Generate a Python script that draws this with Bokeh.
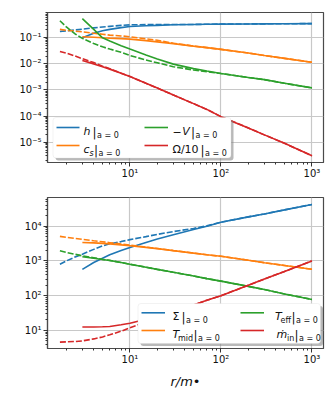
from bokeh.plotting import figure
from bokeh.layouts import column
from bokeh.models import Range1d, LogTicker, CustomJSTickFormatter, BoxAnnotation, Label
from bokeh.embed import file_html
from bokeh.resources import INLINE

# ---------------- data ----------------
r_solid = [3, 4, 5, 6, 8, 10, 15, 20, 30, 50, 70, 100, 200, 300, 500, 1000]
r_dash = [1.7, 2, 2.5, 3, 4, 5, 6, 8, 10, 15, 20, 30, 50, 70, 100, 200, 300, 500, 1000]

# top panel
h_solid = [0.10, 0.15, 0.185, 0.21, 0.245, 0.27, 0.29, 0.30, 0.315, 0.325, 0.33, 0.335, 0.34, 0.343, 0.346, 0.35]
h_dash = [0.175, 0.185, 0.20, 0.215, 0.24, 0.26, 0.275, 0.30, 0.315, 0.32, 0.325, 0.325, 0.325, 0.33, 0.335, 0.34, 0.343, 0.346, 0.35]
cs_solid = [0.11, 0.105, 0.10, 0.097, 0.093, 0.089, 0.078, 0.070, 0.060, 0.048, 0.042, 0.036, 0.026, 0.021, 0.0163, 0.0115]
cs_dash = [0.21, 0.195, 0.18, 0.17, 0.15, 0.137, 0.127, 0.118, 0.11, 0.092, 0.080, 0.062, 0.048, 0.042, 0.036, 0.026, 0.021, 0.0163, 0.0115]
V_solid = [0.54, 0.21, 0.10, 0.075, 0.05, 0.037, 0.022, 0.0155, 0.0098, 0.0066, 0.0053, 0.0043, 0.0030, 0.0025, 0.0018, 0.0012]
V_dash = [0.45, 0.26, 0.14, 0.095, 0.06, 0.045, 0.037, 0.028, 0.021, 0.014, 0.011, 0.0078, 0.0058, 0.0050, 0.0043, 0.0030, 0.0025, 0.0018, 0.0012]
Om_solid = [0.0134, 0.0100, 0.0078, 0.0063, 0.0044, 0.0033, 0.0018, 0.00118, 0.00064, 0.0003, 0.00018, 0.000095, 0.000035, 0.000019, 0.000009, 0.000003]
Om_dash = [0.030, 0.026, 0.020, 0.0158, 0.0112, 0.0082, 0.0065, 0.0044, 0.0033, 0.0018, 0.00118, 0.00064, 0.0003, 0.00018, 0.000095, 0.000035, 0.000019, 0.000009, 0.000003]

# bottom panel
Sig_solid = [570, 900, 1200, 1500, 2000, 2450, 3400, 4270, 5700, 8000, 10000, 13000, 18500, 22500, 29500, 42000]
Sig_dash = [800, 1000, 1300, 1560, 2150, 2700, 3100, 3600, 4100, 5000, 5800, 7000, 8600, 10200, 13000, 18500, 22500, 29500, 42000]
Tmid_solid = [3400, 3300, 3200, 3100, 2900, 2740, 2450, 2260, 1980, 1680, 1500, 1360, 1050, 890, 740, 575]
Tmid_dash = [5100, 4800, 4450, 4200, 3800, 3550, 3350, 3050, 2850, 2500, 2280, 1980, 1680, 1500, 1360, 1050, 890, 740, 575]
Teff_solid = [1320, 1200, 1100, 1030, 900, 800, 660, 570, 470, 370, 310, 262, 185, 150, 112, 78]
Teff_dash = [1960, 1750, 1550, 1400, 1230, 1110, 1035, 900, 800, 660, 570, 470, 370, 310, 262, 185, 150, 112, 78]
mdot_solid = [12.5, 12.5, 12.7, 13.0, 14.5, 16, 21, 26, 36, 54, 74, 100, 200, 300, 500, 1000]
mdot_dash = [4.6, 4.7, 4.8, 5.0, 5.7, 6.5, 7.5, 9.5, 12, 17.5, 23.5, 34, 54, 74, 100, 200, 300, 500, 1000]

x_label = "r/m\u2022"

BLUE, ORANGE, GREEN, RED = "#1f77b4", "#ff7f0e", "#2ca02c", "#d62728"
FONT = "DejaVu Sans"
DASH = "6 2"
LW = 1.6

XLO, XHI = 0.094, 3.127
PAGE_L, FW = 47, 276
BL, BR = 47, 5

sup_js = """
const m = {"-":"\u207b","0":"\u2070","1":"\u00b9","2":"\u00b2","3":"\u00b3","4":"\u2074","5":"\u2075","6":"\u2076","7":"\u2077","8":"\u2078","9":"\u2079"};
const e = Math.round(Math.log10(tick));
let s = "";
for (const c of String(e)) s += m[c];
return "10" + s;
"""


def make_fig(frame_h, top_b, bot_b, ylo, yhi, page_top):
    p = figure(width=BL + FW + BR, height=top_b + frame_h + bot_b,
               x_axis_type="log", y_axis_type="log",
               x_range=Range1d(10 ** XLO, 10 ** XHI), y_range=Range1d(10 ** ylo, 10 ** yhi),
               output_backend="svg", toolbar_location=None,
               min_border_left=BL, min_border_right=BR, min_border_top=top_b, min_border_bottom=bot_b)
    p.outline_line_color = "#4a4a4a"
    p.outline_line_width = 1.2
    p.background_fill_color = "white"
    p.border_fill_color = "white"
    for ax in (p.xaxis[0], p.yaxis[0]):
        ax.ticker = LogTicker(mantissas=[1], desired_num_ticks=8, num_minor_ticks=10)
        ax.formatter = CustomJSTickFormatter(code=sup_js)
        ax.axis_line_color = "#4a4a4a"
        ax.axis_line_width = 1.2
        ax.major_tick_out = 4
        ax.major_tick_in = 0
        ax.minor_tick_out = 2
        ax.minor_tick_in = 0
        ax.major_tick_line_color = "#333333"
        ax.minor_tick_line_color = "#333333"
        ax.major_label_text_font = FONT
        ax.major_label_text_font_size = "10px"
        ax.major_label_text_color = "#111111"
    p.xaxis.major_label_standoff = 1
    p.yaxis.major_label_standoff = 2
    p.xgrid.grid_line_color = "#c8c8c8"
    p.ygrid.grid_line_color = "#c8c8c8"
    p.xgrid.grid_line_width = 1.2
    p.ygrid.grid_line_width = 1.2
    p.xgrid.ticker = p.xaxis[0].ticker
    p.ygrid.ticker = p.yaxis[0].ticker
    spec = dict(left=PAGE_L, top=page_top + top_b, w=FW, h=frame_h, ylo=ylo, yhi=yhi)
    return p, spec


def to_data(spec, px, py):
    fx = (px - spec["left"]) / spec["w"]
    fy = (py - spec["top"]) / spec["h"]
    x = 10 ** (XLO + fx * (XHI - XLO))
    y = 10 ** (spec["yhi"] - fy * (spec["yhi"] - spec["ylo"]))
    return x, y


ROLE = {
    "mi": dict(size=11, style="italic", dy=4.0),
    "mn": dict(size=11, style="normal", dy=4.0),
    "si": dict(size=8, style="italic", dy=7.5),
    "sn": dict(size=8, style="normal", dy=7.5),
    "bar": dict(size=12, style="normal", dy=5.5),
}


def draw_legend(p, spec, box, rows, cols, entries):
    l, t, r, b = box
    sx0, sy0 = to_data(spec, l + 2.5, b + 2.5)
    sx1, sy1 = to_data(spec, r + 2.5, t + 2.5)
    p.add_layout(BoxAnnotation(left=sx0, right=sx1, bottom=sy0, top=sy1,
                               fill_color="#808080", fill_alpha=0.55, line_color=None, border_radius=3))
    bx0, by0 = to_data(spec, l, b)
    bx1, by1 = to_data(spec, r, t)
    p.add_layout(BoxAnnotation(left=bx0, right=bx1, bottom=by0, top=by1,
                               fill_color="white", fill_alpha=1.0, line_color="#d5d5d5",
                               line_width=1, border_radius=3))
    for color, ci, ri, pieces in entries:
        lx0, lx1, tx = cols[ci]
        ry = rows[ri]
        x0, y0 = to_data(spec, lx0, ry)
        x1, _ = to_data(spec, lx1, ry)
        p.segment(x0=[x0], y0=[y0], x1=[x1], y1=[y0], line_color=color, line_width=LW, level="overlay")
        for text, dx, role in pieces:
            st = ROLE[role]
            x, y = to_data(spec, tx + dx, ry + st["dy"])
            p.add_layout(Label(x=x, y=y, text=text, text_font=FONT, text_font_size="%gpx" % st["size"],
                               text_font_style=st["style"], text_color="#111111",
                               text_baseline="alphabetic", text_align="left"))


SUB = "a = 0"

# ---------------- top panel ----------------
TOP1_H = 12 + 150 + 22
p1, s1 = make_fig(150, 12, 22, -5.78, -0.03, 0)
for rr, yy, c, dash in [(r_solid, h_solid, BLUE, "solid"), (r_dash, h_dash, BLUE, DASH),
                        (r_solid, cs_solid, ORANGE, "solid"), (r_dash, cs_dash, ORANGE, DASH),
                        (r_solid, V_solid, GREEN, "solid"), (r_dash, V_dash, GREEN, DASH),
                        (r_solid, Om_solid, RED, "solid"), (r_dash, Om_dash, RED, DASH)]:
    p1.line(rr, yy, line_color=c, line_width=LW, line_dash=dash)

draw_legend(p1, s1, (52.5, 117, 230.5, 157.5), [127, 145],
            [(56, 79, 83), (144, 167.5, 172)],
            [(BLUE, 0, 0, [("h", 0, "mi"), ("|", 9, "bar"), (SUB, 13.5, "sn")]),
             (ORANGE, 0, 1, [("c", 0, "mi"), ("s", 6, "si"), ("|", 10.5, "bar"), (SUB, 15, "sn")]),
             (GREEN, 1, 0, [("\u2212", 0, "mn"), ("V", 9.8, "mi"), ("|", 18.5, "bar"), (SUB, 23, "sn")]),
             (RED, 1, 1, [("\u03a9/10", 0, "mn"), ("|", 28, "bar"), (SUB, 32.5, "sn")])])

# ---------------- bottom panel ----------------
p2, s2 = make_fig(151, 13, 44, 0.48, 4.825, TOP1_H)
for rr, yy, c, dash in [(r_solid, Sig_solid, BLUE, "solid"), (r_dash, Sig_dash, BLUE, DASH),
                        (r_solid, Tmid_solid, ORANGE, "solid"), (r_dash, Tmid_dash, ORANGE, DASH),
                        (r_solid, Teff_solid, GREEN, "solid"), (r_dash, Teff_dash, GREEN, DASH),
                        (r_solid, mdot_solid, RED, "solid"), (r_dash, mdot_dash, RED, DASH)]:
    p2.line(rr, yy, line_color=c, line_width=LW, line_dash=dash)

p2.xaxis.axis_label = x_label
p2.xaxis.axis_label_text_font = FONT
p2.xaxis.axis_label_text_font_size = "13px"
p2.xaxis.axis_label_text_font_style = "italic"
p2.xaxis.axis_label_text_color = "#111111"
p2.xaxis.axis_label_standoff = 6

draw_legend(p2, s2, (137.5, 303, 320, 343), [312.3, 330],
            [(141, 164.5, 172), (240, 263.5, 274.5)],
            [(BLUE, 0, 0, [("\u03a3", 0, "mn"), ("|", 9, "bar"), (SUB, 13.5, "sn")]),
             (ORANGE, 0, 1, [("T", 0, "mi"), ("mid", 5.5, "sn"), ("|", 21, "bar"), (SUB, 25.5, "sn")]),
             (GREEN, 1, 0, [("T", 0, "mi"), ("eff", 5.5, "sn"), ("|", 16.5, "bar"), (SUB, 21, "sn")]),
             (RED, 1, 1, [("\u1e41", 1.5, "mi"), ("in", 12, "sn"), ("|", 19.5, "bar"), (SUB, 24, "sn")])])

layout = column(p1, p2)
open("out.html", "w").write(file_html(layout, INLINE))
